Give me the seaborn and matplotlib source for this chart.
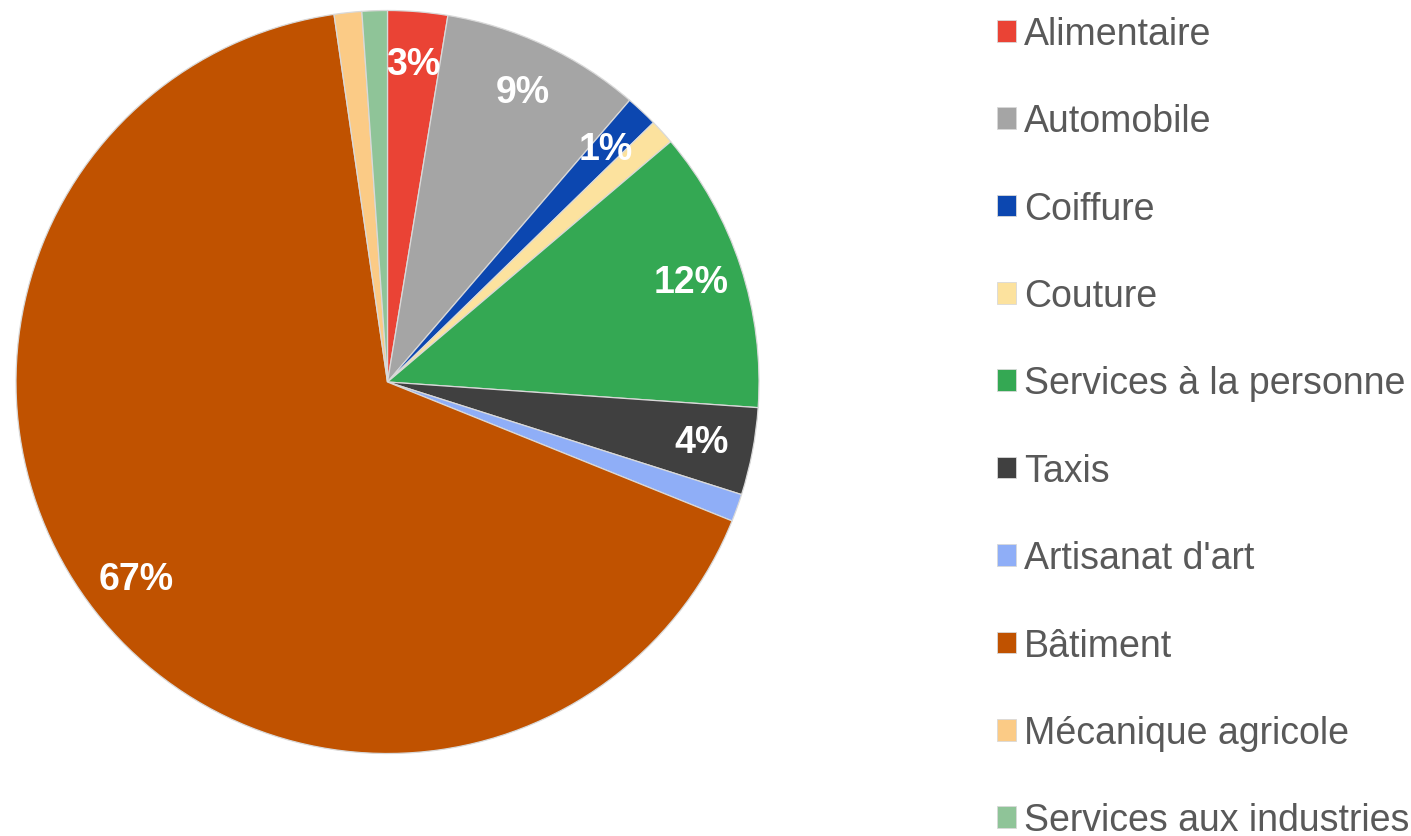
import matplotlib
matplotlib.use("Agg")
import matplotlib.pyplot as plt
import matplotlib.patches as patches
import seaborn as sns

# ------------------------------------------------------------
# Data (share of companies by sector, %)
# ------------------------------------------------------------
SECTORS = [
    "Alimentaire",
    "Automobile",
    "Coiffure",
    "Couture",
    "Services à la personne",
    "Taxis",
    "Artisanat d'art",
    "Bâtiment",
    "Mécanique agricole",
    "Services aux industries",
]
SHARES = [2.6, 8.7, 1.4, 1.1, 12.3, 3.8, 1.2, 66.6, 1.2, 1.1]
COLORS = [
    "#EA4335",
    "#A5A5A5",
    "#0C47B0",
    "#FCE29E",
    "#34A853",
    "#404040",
    "#8FAEF7",
    "#C05200",
    "#FBCB86",
    "#8FC498",
]
# slices whose percentage label is shown
LABELLED = [0, 1, 2, 4, 5, 7]


def main():
    sns.set_theme(style="white")
    plt.rcParams["font.family"] = ["Liberation Sans", "DejaVu Sans"]

    W, H = 1411, 837
    fig = plt.figure(figsize=(W / 100, H / 100), dpi=100)

    cx, cy, r = 387.5, 383.0, 371.5
    ax = fig.add_axes([(cx - r) / W, (H - cy - r) / H, 2 * r / W, 2 * r / H])

    wedges, _, autotexts = ax.pie(
        SHARES,
        colors=COLORS,
        startangle=90,
        counterclock=False,
        radius=1,
        autopct="%1.0f%%",
        pctdistance=0.86,
        wedgeprops={"edgecolor": "#D9D9D9", "linewidth": 0.9},
        textprops={"color": "white", "fontsize": 27, "fontweight": "bold"},
    )
    for i, t in enumerate(autotexts):
        if i not in LABELLED:
            t.set_visible(False)
    ax.set_xlim(-1.0, 1.0)
    ax.set_ylim(-1.0, 1.0)

    handles = [
        patches.Patch(facecolor=c, edgecolor="#D9D9D9", linewidth=0.6)
        for c in COLORS
    ]
    leg = fig.legend(
        handles,
        SECTORS,
        loc="upper left",
        bbox_to_anchor=(997 / W, 1 - 17 / H),
        frameon=False,
        fontsize=27,
        handlelength=0.51,
        handleheight=0.51,
        handletextpad=0.21,
        labelspacing=1.37,
        borderaxespad=0,
        borderpad=0,
    )
    for t in leg.get_texts():
        t.set_color("#595959")

    fig.savefig("out.png", dpi=100)
    plt.close(fig)


if __name__ == "__main__":
    main()
